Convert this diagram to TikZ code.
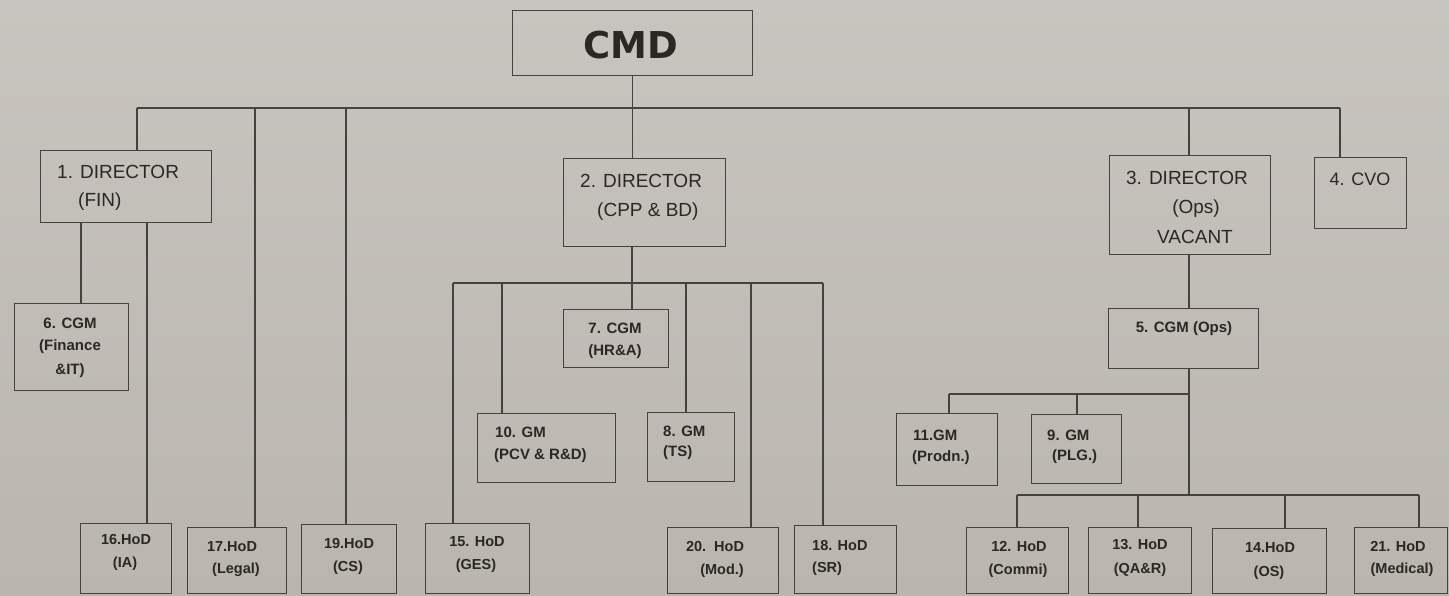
\documentclass[tikz,border=0pt]{standalone}
\usepackage{fontspec}
\setmainfont{Liberation Sans}
\newfontfamily\cmdfont{DejaVu Sans}
\definecolor{bgtop}{RGB}{200,197,190}
\definecolor{bgbot}{RGB}{186,182,174}
\definecolor{ln}{RGB}{68,66,62}
\definecolor{tx}{RGB}{42,40,37}
\newcommand{\orgbox}[5]{\node[bx, minimum width={(#4-#2)*1pt}, minimum height={(#5-#3)*1pt}] (#1) at (#2,#3) {};}
\begin{document}
\begin{tikzpicture}[x=1pt,y=-1pt,
  bx/.style={draw=ln, line width=1.2pt, rectangle, inner sep=0pt, anchor=north west},
  cn/.style={draw=ln, line width=1.2pt},
  dt/.style={text=tx, inner sep=0pt, font=\fontsize{19}{22}\selectfont},
  st/.style={text=tx, inner sep=0pt, font=\fontsize{15}{18}\selectfont\bfseries},
  ht/.style={text=tx, inner sep=0pt, font=\fontsize{14.5}{17}\selectfont\bfseries}]
\shade[top color=bgtop, bottom color=bgbot] (0,0) rectangle (1449,595);
\useasboundingbox (0,0) rectangle (1449,595);
% boxes
\orgbox{cmd}{512}{10}{752}{75}
\orgbox{d1}{40}{150}{211}{222}
\orgbox{d2}{563}{158}{725}{246}
\orgbox{d3}{1109}{155}{1270}{254}
\orgbox{cvo}{1314}{157}{1406}{228}
\orgbox{c6}{14}{303}{128}{390}
\orgbox{c7}{563}{309}{668}{367}
\orgbox{c5}{1108}{308}{1258}{368}
\orgbox{g10}{477}{413}{615}{482}
\orgbox{g8}{647}{412}{734}{481}
\orgbox{g11}{896}{413}{997}{485}
\orgbox{g9}{1031}{414}{1121}{483}
\orgbox{h16}{80}{523}{171}{593}
\orgbox{h17}{187}{527}{286}{593}
\orgbox{h19}{301}{524}{396}{593}
\orgbox{h15}{425}{523}{529}{593}
\orgbox{h20}{667}{527}{778}{593}
\orgbox{h18}{794}{525}{896}{593}
\orgbox{h12}{966}{527}{1068}{593}
\orgbox{h13}{1088}{527}{1191}{593}
\orgbox{h14}{1212}{528}{1326}{593}
\orgbox{h21}{1354}{527}{1447}{593}
% texts
\node[text=tx, inner sep=0pt, font=\cmdfont\fontsize{37}{40}\selectfont\bfseries] (tcmd) at (631,45) {CMD};
\node[dt, anchor=west] (td1a) at (57,172) {1. DIRECTOR};
\node[dt, anchor=west] (td1b) at (78,202) {(FIN)};
\node[dt, anchor=west] (td2a) at (580,181) {2. DIRECTOR};
\node[dt, anchor=west] (td2b) at (597,212) {(CPP \& BD)};
\node[dt] (td3a) at (1187,178) {3. DIRECTOR};
\node[dt] (td3b) at (1196,209) {(Ops)};
\node[dt] (td3c) at (1195,237) {VACANT};
\node[dt, font=\fontsize{18}{21}\selectfont] (tcvo) at (1360,179) {4. CVO};
\node[st] (tc6a) at (70,323) {6. CGM};
\node[st] (tc6b) at (70,347) {(Finance};
\node[st] (tc6c) at (70,371) {\&IT)};
\node[st] (tc7a) at (615,328) {7. CGM};
\node[st] (tc7b) at (615,352) {(HR\&A)};
\node[st] (tc5) at (1184,329) {5. CGM (Ops)};
\node[st, anchor=west] (tg10a) at (495,432) {10. GM};
\node[st, anchor=west] (tg10b) at (494,456) {(PCV \& R\&D)};
\node[st, anchor=west] (tg8a) at (663,431) {8. GM};
\node[st, anchor=west] (tg8b) at (663,453) {(TS)};
\node[st, anchor=west] (tg11a) at (913,435) {11.GM};
\node[st, anchor=west] (tg11b) at (912,458) {(Prodn.)};
\node[st, anchor=west] (tg9a) at (1047,435) {9. GM};
\node[st, anchor=west] (tg9b) at (1052,457) {(PLG.)};
\node[ht] (th16a) at (126,539) {16.HoD};
\node[ht] (th16b) at (125,564) {(IA)};
\node[ht] (th17a) at (232,547) {17.HoD};
\node[ht] (th17b) at (236,570) {(Legal)};
\node[ht] (th19a) at (349,543) {19.HoD};
\node[ht] (th19b) at (348,568) {(CS)};
\node[ht] (th15a) at (477,542) {15. HoD};
\node[ht] (th15b) at (476,566) {(GES)};
\node[ht] (th20a) at (715,547) {20.\ \ HoD};
\node[ht] (th20b) at (722,571) {(Mod.)};
\node[ht, anchor=west] (th18a) at (812,545) {18. HoD};
\node[ht, anchor=west] (th18b) at (812,569) {(SR)};
\node[ht] (th12a) at (1019,547) {12. HoD};
\node[ht] (th12b) at (1018,571) {(Commi)};
\node[ht] (th13a) at (1140,545) {13. HoD};
\node[ht] (th13b) at (1140,570) {(QA\&R)};
\node[ht] (th14a) at (1270,548) {14.HoD};
\node[ht] (th14b) at (1269,573) {(OS)};
\node[ht] (th21a) at (1398,546) {21. HoD};
\node[ht] (th21b) at (1402,570) {(Medical)};
% connectors: top level
\draw[cn] (cmd.south) -- (cmd.south |- d2.north);
\coordinate (jA) at (137,108);
\coordinate (jB) at (1340,108);
\coordinate (j17) at (255,108);
\coordinate (j19) at (346,108);
\coordinate (j3) at (1189,108);
\draw[cn] (jA) -- (jB);
\draw[cn] (jA) -- (jA |- d1.north);
\draw[cn] (j17) -- (j17 |- h17.north);
\draw[cn] (j19) -- (j19 |- h19.north);
\draw[cn] (j3) -- (j3 |- d3.north);
\draw[cn] (jB) -- (jB |- cvo.north);
% director 1
\coordinate (k6) at (81,222);
\coordinate (k16) at (147,222);
\draw[cn] (k6 |- d1.south) -- (k6 |- c6.north);
\draw[cn] (k16 |- d1.south) -- (k16 |- h16.north);
% director 2
\coordinate (m0) at (632,283);
\coordinate (mL) at (453,283);
\coordinate (mR) at (823,283);
\coordinate (m10) at (502,283);
\coordinate (m8) at (686,283);
\coordinate (m20) at (751,283);
\draw[cn] (m0 |- d2.south) -- (m0);
\draw[cn] (mL) -- (mR);
\draw[cn] (mL) -- (mL |- h15.north);
\draw[cn] (m10) -- (m10 |- g10.north);
\draw[cn] (m0) -- (m0 |- c7.north);
\draw[cn] (m8) -- (m8 |- g8.north);
\draw[cn] (m20) -- (m20 |- h20.north);
\draw[cn] (mR) -- (mR |- h18.north);
% director 3
\coordinate (n0) at (1189,300);
\coordinate (n1) at (1189,394);
\coordinate (n2) at (1189,495);
\coordinate (n11) at (949,394);
\coordinate (n9) at (1077,394);
\draw[cn] (n0 |- d3.south) -- (n0 |- c5.north);
\draw[cn] (n0 |- c5.south) -- (n2);
\draw[cn] (n11) -- (n1);
\draw[cn] (n11) -- (n11 |- g11.north);
\draw[cn] (n9) -- (n9 |- g9.north);
\coordinate (p12) at (1017,495);
\coordinate (p13) at (1138,495);
\coordinate (p14) at (1285,495);
\coordinate (p21) at (1419,495);
\draw[cn] (p12) -- (p21);
\draw[cn] (p12) -- (p12 |- h12.north);
\draw[cn] (p13) -- (p13 |- h13.north);
\draw[cn] (p14) -- (p14 |- h14.north);
\draw[cn] (p21) -- (p21 |- h21.north);
\end{tikzpicture}
\end{document}
